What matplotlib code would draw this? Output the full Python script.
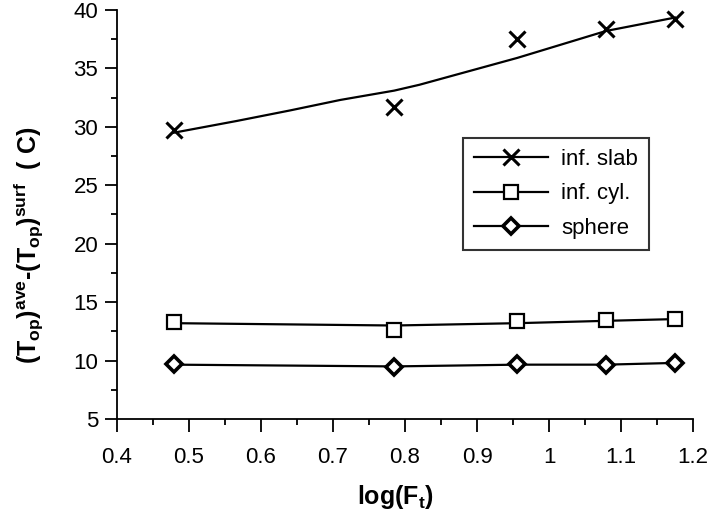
import matplotlib
matplotlib.use("Agg")
import matplotlib.pyplot as plt
from matplotlib.ticker import MultipleLocator

plt.rcParams['font.family'] = ['Liberation Sans', 'DejaVu Sans']
plt.rcParams['mathtext.fontset'] = 'custom'
plt.rcParams['mathtext.rm'] = 'Liberation Sans'
plt.rcParams['mathtext.bf'] = 'Liberation Sans:bold'
plt.rcParams['mathtext.it'] = 'Liberation Sans:italic'

# data
log_ft = [0.479, 0.785, 0.956, 1.079, 1.175]
slab = [29.7, 31.7, 37.5, 38.4, 39.2]
cyl = [13.3, 12.65, 13.4, 13.45, 13.55]
sphere = [9.7, 9.45, 9.7, 9.6, 9.8]

# fitted curves
slab_fit_x = [0.479, 0.566, 0.64, 0.71, 0.785, 0.82, 0.956, 1.079, 1.175]
slab_fit_y = [29.5, 30.5, 31.4, 32.3, 33.1, 33.6, 35.9, 38.2, 39.35]
cyl_fit = [13.2, 13.0, 13.2, 13.4, 13.55]
sphere_fit = [9.65, 9.5, 9.65, 9.65, 9.8]

labels = ['inf. slab', 'inf. cyl.', 'sphere']
x_ticks = [0.4, 0.5, 0.6, 0.7, 0.8, 0.9, 1.0, 1.1, 1.2]
x_tick_labels = ['0.4', '0.5', '0.6', '0.7', '0.8', '0.9', '1', '1.1', '1.2']
y_ticks = [5, 10, 15, 20, 25, 30, 35, 40]

fig = plt.figure(figsize=(7.11, 5.25), dpi=100)
ax = fig.add_axes([0.1646, 0.2019, 0.8101, 0.7791])

lw = 1.6
# lines
ax.plot(slab_fit_x, slab_fit_y, color='black', lw=lw, zorder=2)
ax.plot(log_ft, cyl_fit, color='black', lw=lw, zorder=2)
ax.plot(log_ft, sphere_fit, color='black', lw=lw, zorder=2)
# markers
ax.plot(log_ft, slab, ls='none', marker='x', ms=11, mew=2.2, color='black', zorder=3)
ax.plot(log_ft, cyl, ls='none', marker='s', ms=10.5, mew=1.6, mfc='white', mec='black', zorder=3)
ax.plot(log_ft, sphere, ls='none', marker='D', ms=8.5, mew=2.6, mfc='white', mec='black', zorder=3)

# legend handles
h1, = ax.plot([], [], color='black', lw=lw, marker='x', ms=11, mew=2.2)
h2, = ax.plot([], [], color='black', lw=lw, marker='s', ms=10.5, mew=1.6, mfc='white')
h3, = ax.plot([], [], color='black', lw=lw, marker='D', ms=8.5, mew=2.6, mfc='white')
leg = ax.legend([h1, h2, h3], labels, loc='upper left', bbox_to_anchor=(0.601, 0.687),
                borderaxespad=0, fontsize=16, handlelength=3.3, handletextpad=0.6,
                labelspacing=0.6, borderpad=0.5, fancybox=False, frameon=True,
                numpoints=1)
leg.get_frame().set_edgecolor('black')
leg.get_frame().set_linewidth(1.5)

ax.set_xlim(0.4, 1.2)
ax.set_ylim(5, 40)
ax.set_xticks(x_ticks)
ax.set_xticklabels(x_tick_labels)
ax.set_yticks(y_ticks)
ax.xaxis.set_minor_locator(MultipleLocator(0.05))
ax.yaxis.set_minor_locator(MultipleLocator(2.5))

for s in ['top', 'right']:
    ax.spines[s].set_visible(False)
for s in ['left', 'bottom']:
    ax.spines[s].set_linewidth(1.3)

ax.tick_params(axis='x', which='major', direction='out', length=9.5, width=1.3, labelsize=16, pad=11)
ax.tick_params(axis='x', which='minor', direction='out', length=4.5, width=1.3)
ax.tick_params(axis='y', which='major', direction='out', length=8.5, width=1.3, labelsize=16, pad=5)
ax.tick_params(axis='y', which='minor', direction='out', length=4.5, width=1.3)

ax.set_xlabel(r'$\mathbf{log(F_t)}$', fontsize=18)
ax.xaxis.set_label_coords(0.483, -0.156)
ax.set_ylabel(r'$\mathbf{(T_{op})^{ave}}$' + r'-' + r'$\mathbf{(T_{op})^{surf}\ \ (\ C)}$',
              fontsize=18, fontweight='bold')
ax.yaxis.set_label_coords(-0.125, 0.425)

fig.savefig('out.png', dpi=100)
